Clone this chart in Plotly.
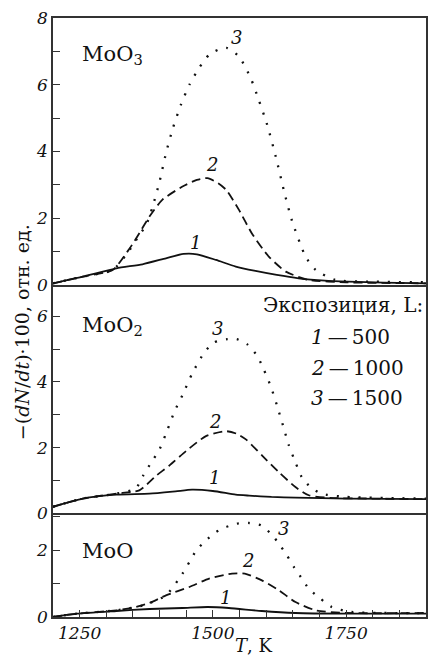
import plotly.graph_objects as go

# ---------------- data ----------------
# Panel MoO3 (top)
moo3_t1 = [1200, 1256, 1319, 1368, 1412, 1445, 1470, 1506, 1543, 1580, 1620, 1661, 1710, 1754, 1820, 1900]
moo3_v1 = [0.05, 0.25, 0.50, 0.62, 0.80, 0.93, 0.92, 0.75, 0.55, 0.42, 0.30, 0.20, 0.13, 0.10, 0.07, 0.05]
moo3_t2 = [1200, 1256, 1312, 1344, 1362, 1381, 1405, 1443, 1470, 1490, 1510, 1525, 1549, 1573, 1605, 1637, 1680, 1750, 1900]
moo3_v2 = [0.05, 0.25, 0.45, 1.10, 1.55, 2.05, 2.55, 2.95, 3.15, 3.20, 3.05, 2.85, 2.25, 1.55, 0.85, 0.40, 0.15, 0.08, 0.05]
moo3_t3 = [1200, 1256, 1312, 1344, 1362, 1375, 1387, 1400, 1412, 1425, 1440, 1456, 1474, 1493, 1510, 1527, 1549, 1571, 1586, 1601, 1618, 1633, 1648, 1674, 1693, 1730, 1800, 1900]
moo3_v3 = [0.05, 0.25, 0.45, 1.05, 1.50, 1.80, 2.35, 3.10, 3.95, 4.70, 5.40, 6.00, 6.50, 6.90, 7.05, 7.10, 6.85, 6.20, 5.55, 4.85, 3.85, 2.85, 1.95, 0.85, 0.45, 0.15, 0.10, 0.08]

# Panel MoO2 (middle)
moo2_t1 = [1200, 1256, 1319, 1381, 1430, 1461, 1500, 1543, 1568, 1610, 1655, 1750, 1900]
moo2_v1 = [0.20, 0.45, 0.57, 0.60, 0.67, 0.72, 0.68, 0.57, 0.54, 0.50, 0.48, 0.45, 0.43]
moo2_t2 = [1200, 1256, 1319, 1362, 1394, 1418, 1450, 1487, 1525, 1545, 1562, 1593, 1624, 1655, 1680, 1720, 1800, 1900]
moo2_v2 = [0.20, 0.45, 0.60, 0.70, 1.15, 1.45, 1.90, 2.35, 2.50, 2.42, 2.25, 1.75, 1.25, 0.80, 0.55, 0.47, 0.45, 0.43]
moo2_t3 = [1200, 1256, 1319, 1355, 1369, 1384, 1400, 1415, 1428, 1443, 1461, 1484, 1502, 1527, 1545, 1564, 1583, 1595, 1609, 1620, 1633, 1642, 1655, 1667, 1683, 1704, 1750, 1900]
moo2_v3 = [0.20, 0.45, 0.60, 0.75, 1.14, 1.54, 1.95, 2.55, 3.10, 3.60, 4.25, 4.90, 5.20, 5.30, 5.30, 5.15, 4.80, 4.40, 3.85, 3.30, 2.60, 2.10, 1.55, 1.10, 0.80, 0.60, 0.50, 0.45]

# Panel MoO (bottom)
moo_t1 = [1200, 1245, 1319, 1381, 1443, 1490, 1530, 1592, 1655, 1750, 1900]
moo_v1 = [0.00, 0.10, 0.18, 0.24, 0.27, 0.30, 0.27, 0.18, 0.12, 0.10, 0.10]
moo_t2 = [1200, 1245, 1319, 1350, 1381, 1412, 1456, 1493, 1536, 1560, 1592, 1624, 1655, 1693, 1750, 1900]
moo_v2 = [0.00, 0.10, 0.20, 0.28, 0.42, 0.65, 0.90, 1.15, 1.30, 1.30, 1.10, 0.80, 0.45, 0.20, 0.12, 0.12]
moo_t3 = [1200, 1245, 1319, 1370, 1412, 1443, 1456, 1469, 1487, 1506, 1525, 1545, 1568, 1590, 1609, 1624, 1639, 1652, 1665, 1680, 1702, 1723, 1760, 1900]
moo_v3 = [0.00, 0.10, 0.20, 0.35, 0.65, 1.30, 1.65, 2.00, 2.30, 2.55, 2.70, 2.80, 2.82, 2.75, 2.50, 2.20, 1.85, 1.50, 1.20, 0.85, 0.55, 0.30, 0.15, 0.12]

panel_names = ["MoO<sub>3</sub>", "MoO<sub>2</sub>", "MoO"]
legend_title = "Экспозиция, L:"
legend_rows = ["1", "2", "3"]
legend_vals = ["500", "1000", "1500"]
x_ticks = [1250, 1500, 1750]

# curve label positions (data coords) per panel
lab_moo3 = [(1467, 1.26), (1499, 3.6), (1545, 7.43)]
lab_moo2 = [(1503, 1.08), (1504, 2.79), (1508, 5.62)]
lab_moo = [(1523, 0.60), (1566, 1.68), (1633, 2.64)]

# ---------------- figure ----------------
INK = "#111111"
AX = "#333333"
SERIF = "DejaVu Serif"
styles = [dict(color=INK, width=1.8, dash="solid"),
          dict(color=INK, width=1.8, dash="9px,5px"),
          dict(color=INK, width=2.3, dash="2px,9px")]

fig = go.Figure()

panels = [
    ("x3", "y3", [(moo3_t1, moo3_v1), (moo3_t2, moo3_v2), (moo3_t3, moo3_v3)], lab_moo3),
    ("x2", "y2", [(moo2_t1, moo2_v1), (moo2_t2, moo2_v2), (moo2_t3, moo2_v3)], lab_moo2),
    ("x", "y", [(moo_t1, moo_v1), (moo_t2, moo_v2), (moo_t3, moo_v3)], lab_moo),
]

for xr, yr, curves, labs in panels:
    for (t, v), st in zip(curves, styles):
        fig.add_trace(go.Scatter(x=t, y=v, mode="lines", xaxis=xr, yaxis=yr,
                                 line=dict(color=st["color"], width=st["width"], dash=st["dash"],
                                           shape="spline", smoothing=0.6),
                                 showlegend=False, hoverinfo="skip"))
    for i, (lx, ly) in enumerate(labs):
        fig.add_annotation(x=lx, y=ly, xref=xr, yref=yr, text=str(i + 1), showarrow=False,
                           font=dict(family=SERIF, size=18, color=INK, style="italic"))

tickfont = dict(family=SERIF, size=17, color=INK, style="italic")
d3 = [0, 0.1703]
d2 = [0.1703, 0.5543]
d1 = [0.5543, 1.0]

common_x = dict(range=[1200, 1900], linecolor=AX, linewidth=1.6,
                showgrid=False, zeroline=False)
common_y = dict(showline=True, mirror=True, linecolor=AX, linewidth=1.6, showgrid=False,
                zeroline=False, ticks="inside", ticklen=7, tickwidth=1.3, tickcolor=AX,
                dtick=2, tick0=0, tickfont=tickfont,
                minor=dict(dtick=1, ticks="inside", ticklen=7, tickwidth=1.3, tickcolor=AX))

fig.update_layout(
    width=429, height=657,
    margin=dict(l=53, r=1, t=18, b=40),
    paper_bgcolor="white", plot_bgcolor="white",
    xaxis=dict(**common_x, anchor="y", showline=True, mirror=True,
               ticks="inside", ticklen=7, tickwidth=1.3, tickcolor=AX,
               tickvals=x_ticks, tickfont=tickfont,
               minor=dict(dtick=50, tick0=1200, ticks="inside", ticklen=7, tickwidth=1.3, tickcolor=AX)),
    xaxis2=dict(**common_x, anchor="y2", showline=False, showticklabels=False, ticks=""),
    xaxis3=dict(**common_x, anchor="y3", showline=True, mirror=True, showticklabels=False, ticks=""),
    yaxis=dict(**common_y, domain=d3, range=[0, 3.06], anchor="x"),
    yaxis2=dict(**common_y, domain=d2, range=[-0.05, 6.95], anchor="x2"),
    yaxis3=dict(**common_y, domain=d1, range=[0, 8], anchor="x3"),
)

def px_x(px):
    return (px - 53) / 375.0

def px_y(py):
    return (617 - py) / 599.0

# panel names
for name, cy in zip(panel_names, [55, 326, 551]):
    fig.add_annotation(x=px_x(80), y=px_y(cy), xref="paper", yref="paper", xanchor="left",
                       yanchor="middle", text=name, showarrow=False,
                       font=dict(family=SERIF, size=21, color=INK))

# legend block
fig.add_annotation(x=px_x(427), y=px_y(305), xref="paper", yref="paper", xanchor="right",
                   yanchor="middle", text=legend_title, showarrow=False,
                   font=dict(family=SERIF, size=20, color=INK))
for r, val, cy in zip(legend_rows, legend_vals, [337, 368, 398]):
    fig.add_annotation(x=px_x(310), y=px_y(cy), xref="paper", yref="paper", xanchor="left",
                       yanchor="middle", text="<i>" + r + "</i>\u2009—\u2009" + val, showarrow=False,
                       font=dict(family=SERIF, size=20, color=INK))

# axis titles
fig.add_annotation(x=px_x(22), y=px_y(332), xref="paper", yref="paper", textangle=-90,
                   text="−(<i>dN</i>/<i>dt</i>)·100, отн. ед.", showarrow=False,
                   xanchor="center", yanchor="middle",
                   font=dict(family=SERIF, size=19, color=INK))
fig.add_annotation(x=px_x(255), y=px_y(645), xref="paper", yref="paper",
                   text="<i>T</i>, K", showarrow=False, xanchor="center", yanchor="middle",
                   font=dict(family=SERIF, size=18, color=INK))

fig.write_html("out.html")
